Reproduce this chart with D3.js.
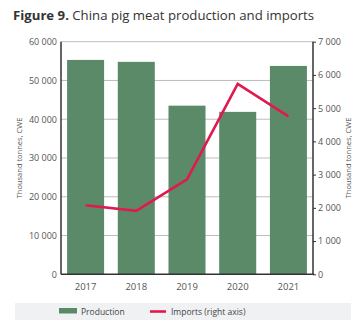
<!DOCTYPE html>
<html><head><meta charset="utf-8">
<script src="https://cdn.jsdelivr.net/npm/d3@7"></script>
<style>
html,body{margin:0;padding:0;background:#fff;}
svg text{font-family:"Open Sans",sans-serif;}
</style></head>
<body><svg id="c" width="355" height="324"></svg>
<script>
const years = ["2017","2018","2019","2020","2021"];
const production = [55300, 54800, 43500, 41900, 53750];
const imports = [2080, 1910, 2860, 5730, 4750];
const leftTicks = [0,10000,20000,30000,40000,50000,60000];
const rightTicks = [0,1000,2000,3000,4000,5000,6000,7000];

const svg = d3.select("#c");
const L = 61, R = 313, T = 41.7, B = 274.3;
const x = d3.scaleBand().domain(years).range([L, R]).paddingInner(0.27).paddingOuter(0.12);
const yL = d3.scaleLinear().domain([0,60000]).range([B, T]);
const yR = d3.scaleLinear().domain([0,7000]).range([B, T]);
const fmt = d => d3.format(",")(d).replace(/,/g, " ");

// title
const title = svg.append("text").attr("x", 13).attr("y", 20).attr("fill", "#333").attr("font-size", 13.2);
title.append("tspan").attr("font-weight", "bold").text("Figure 9.");
title.append("tspan").text(" China pig meat production and imports");

// gridlines
svg.append("g").selectAll("line").data(leftTicks.slice(1)).join("line")
  .attr("x1", L).attr("x2", R).attr("y1", d => yL(d)).attr("y2", d => yL(d))
  .attr("stroke", "#bdbdbd").attr("stroke-width", 1);

// bars
svg.append("g").selectAll("rect").data(production).join("rect")
  .attr("x", (d,i) => x(years[i])).attr("width", x.bandwidth())
  .attr("y", d => yL(d)).attr("height", d => B - yL(d))
  .attr("fill", "#5b8a69");

// line
svg.append("path").datum(imports)
  .attr("d", d3.line().x((d,i) => x(years[i]) + x.bandwidth()/2).y(d => yR(d)))
  .attr("fill", "none").attr("stroke", "#e0194f").attr("stroke-width", 2.6);

// axes
const gL = svg.append("g").attr("transform", `translate(${L},0)`)
  .call(d3.axisLeft(yL).tickValues(leftTicks).tickFormat(fmt).tickSize(0).tickPadding(4));
const gR = svg.append("g").attr("transform", `translate(${R},0)`)
  .call(d3.axisRight(yR).tickValues(rightTicks).tickFormat(fmt).tickSize(3).tickPadding(2));
const gB = svg.append("g").attr("transform", `translate(0,${B})`)
  .call(d3.axisBottom(x).tickSize(0).tickPadding(9));
[gL, gR, gB].forEach(g => {
  g.selectAll("text").attr("fill", "#555").attr("font-size", 9).attr("font-family", "Open Sans");
  g.select(".domain").attr("stroke", "#333").attr("stroke-width", 1.5);
  g.selectAll(".tick line").attr("stroke", "#333");
});
gB.selectAll("text").attr("font-size", 9.5);
gL.select(".domain").attr("d", `M0,${T}V${B}`);
gR.select(".domain").attr("d", `M0,${T}V${B}`);
gB.select(".domain").attr("d", `M${L},0H${R+1}`);

// axis titles
svg.append("text").attr("transform", `translate(22,${(T+B)/2}) rotate(-90)`)
  .attr("text-anchor", "middle").attr("font-size", 7.5).attr("fill", "#555").text("Thousand tonnes, CWE");
svg.append("text").attr("transform", `translate(351,${(T+B)/2}) rotate(-90)`)
  .attr("text-anchor", "middle").attr("font-size", 7.5).attr("fill", "#555").text("Thousand tonnes, CWE");

// legend
svg.append("rect").attr("x", 15).attr("y", 303).attr("width", 336).attr("height", 17).attr("fill", "#f0f1f3");
svg.append("rect").attr("x", 59).attr("y", 308).attr("width", 18).attr("height", 5.5).attr("fill", "#5b8a69");
svg.append("text").attr("x", 81).attr("y", 315).attr("font-size", 8.5).attr("fill", "#444").text("Production");
svg.append("line").attr("x1", 150).attr("x2", 166).attr("y1", 311.5).attr("y2", 311.5)
  .attr("stroke", "#e0194f").attr("stroke-width", 2.6);
svg.append("text").attr("x", 171).attr("y", 315).attr("font-size", 8.5).attr("fill", "#444").text("Imports (right axis)");
</script></body></html>
